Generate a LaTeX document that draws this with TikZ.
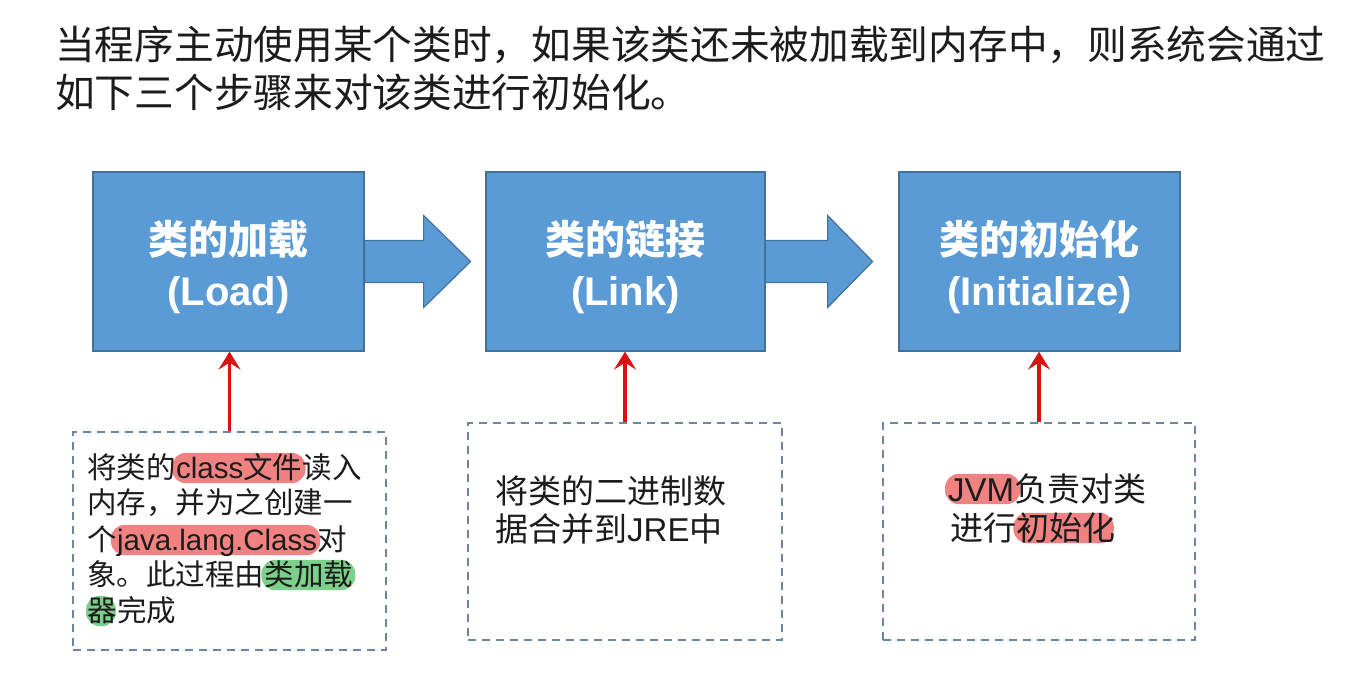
\documentclass[tikz,border=0pt]{standalone}
\usepackage{fontspec}
\setmainfont{Noto Sans CJK SC}
\newfontfamily\lat{Liberation Sans}
\usetikzlibrary{arrows.meta,calc}
\pgfdeclarelayer{bg}
\pgfsetlayers{bg,main}
\definecolor{boxblue}{RGB}{91,155,213}
\definecolor{boxedge}{RGB}{65,113,156}
\definecolor{dashc}{RGB}{106,134,164}
\definecolor{arrred}{RGB}{214,18,18}
\definecolor{hlred}{RGB}{240,130,130}
\definecolor{hlgreen}{RGB}{125,208,140}
\definecolor{txt}{RGB}{28,28,28}
\tikzset{
  stage/.style={draw=boxedge, line width=1.2pt, fill=boxblue, minimum height=179pt, inner sep=0pt},
  stagetext/.style={anchor=base, inner sep=0pt, text=white, font=\fontsize{40}{48}\selectfont\bfseries},
  blockarrow/.style={draw=boxedge, line width=1.2pt, fill=boxblue, line join=miter},
  notebox/.style={draw=dashc, line width=2.5pt, dash pattern=on 8pt off 6pt, minimum height=217pt, inner sep=0pt},
  redarr/.style={draw=arrred, line width=3.5pt, -{Stealth[width=22pt,length=18pt,inset=7pt]}},
  ln/.style={anchor=base west, inner sep=0pt, text=txt},
  fsA/.style={font=\fontsize{29.5}{35}\selectfont},
  fsB/.style={font=\fontsize{33}{40}\selectfont},
  hA/.style={text height=25pt, text depth=5pt},
  hB/.style={text height=27pt, text depth=3pt},
  title/.style={anchor=base west, inner sep=0pt, text=txt, font=\fontsize{39.7}{50}\selectfont},
  pillred/.style={fill=hlred, rounded corners=14pt},
  pillgreen/.style={fill=hlgreen, rounded corners=14pt}
}
\begin{document}
\begin{tikzpicture}[x=1pt,y=-1pt]
\useasboundingbox (0,0) rectangle (1367,686);

% title
\node[title] (ti1) at (55,59) {当程序主动使用某个类时，如果该类还未被加载到内存中，则系统会通过};
\node[title] (ti2) at (55,107) {如下三个步骤来对该类进行初始化。};

% stage boxes
\node[stage, minimum width=271pt] (b1) at (228.5,261.5) {};
\node[stage, minimum width=279pt] (b2) at (625.5,261.5) {};
\node[stage, minimum width=281pt] (b3) at (1039.5,261.5) {};
\node[stagetext] (b1t) at (228.5,254) {类的加载};
\node[stagetext] (b1l) at (228.5,305) {\lat (Load)};
\node[stagetext] (b2t) at (625.5,254) {类的链接};
\node[stagetext] (b2l) at (625.5,305) {\lat (Link)};
\node[stagetext] (b3t) at (1039.5,254) {类的初始化};
\node[stagetext] (b3l) at (1039.5,305) {\lat (Initialize)};

% block arrows
\draw[blockarrow] ([yshift=21pt]b1.east) -- ++(59,0) -- ++(0,-25) -- ++(47,46) -- ++(-47,46) -- ++(0,-25) -- ++(-59,0) -- cycle;
\draw[blockarrow] ([yshift=21pt]b2.east) -- ++(62,0) -- ++(0,-25) -- ++(45,46) -- ++(-45,46) -- ++(0,-25) -- ++(-62,0) -- cycle;

% note boxes
\node[notebox, minimum width=313pt, minimum height=218pt] (d1) at (229.5,541) {};
\node[notebox, minimum width=314pt] (d2) at (625,531.5) {};
\node[notebox, minimum width=312pt] (d3) at (1039,531.5) {};

% red arrows
\draw[redarr] (d1.north) -- (d1.north |- b1.south);
\draw[redarr] (d2.north) -- (d2.north |- b2.south);
\draw[redarr] (d3.north) -- (d3.north |- b3.south);

% note 1 text
\node[ln,fsA] (n1a) at (87,478) {将类的};
\node[ln,fsA,hA] (n1b) at (n1a.base east) {{\lat class}文件};
\node[ln,fsA] (n1c) at (n1b.base east) {读入};
\node[ln,fsA] (n2a) at (87,513) {内存，并为之创建一};
\node[ln,fsA] (n3a) at (87,550) {个};
\node[ln,fsA,hA] (n3b) at (n3a.base east) {\lat java.lang.Class};
\node[ln,fsA] (n3c) at (n3b.base east) {对};
\node[ln,fsA] (n4a) at (87,585) {象。此过程由};
\node[ln,fsA,hA] (n4b) at (n4a.base east) {类加载};
\node[ln,fsA,hA] (n5a) at (87,621) {器};
\node[ln,fsA] (n5b) at (n5a.base east) {完成};

% note 2 text
\node[ln,fsB] (m1) at (495,503) {将类的二进制数};
\node[ln,fsB] (m2) at (495,541) {据合并到{\lat JRE}中};

% note 3 text
\node[ln,fsB,hB] (k1a) at (948,501) {\lat JVM};
\node[ln,fsB] (k1b) at (k1a.base east) {负责对类};
\node[ln,fsB] (k2a) at (950,540) {进行};
\node[ln,fsB,hB] (k2b) at (k2a.base east) {初始化};

% background and highlights
\begin{pgfonlayer}{bg}
\fill[white] (0,0) rectangle (1367,686);
\fill[pillred] ([xshift=-4pt]n1b.south west) rectangle ([xshift=3pt]n1b.north east);
\fill[pillred] ([xshift=-6pt]n3b.south west) rectangle ([xshift=3pt]n3b.north east);
\fill[pillgreen] ([xshift=-3pt]n4b.south west) rectangle ([xshift=2pt]n4b.north east);
\fill[pillgreen] ([xshift=-1pt]n5a.south west) rectangle ([xshift=-1pt]n5a.north east);
\fill[pillred] ([xshift=-3pt]k1a.south west) rectangle ([xshift=6pt]k1a.north east);
\fill[pillred] ([xshift=-3pt]k2b.south west) rectangle ([xshift=-2pt]k2b.north east);
\end{pgfonlayer}
\end{tikzpicture}
\end{document}
